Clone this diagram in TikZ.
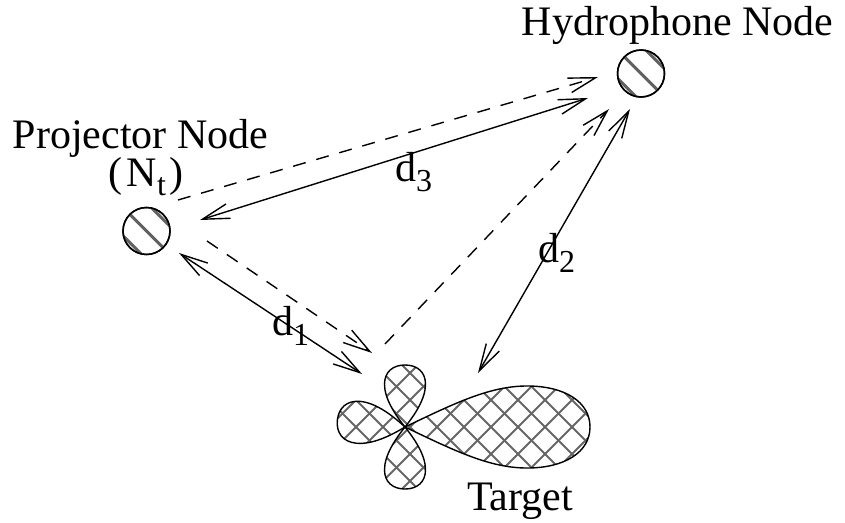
\documentclass[tikz,border=0pt]{standalone}
\usepackage{fontspec}
\setmainfont{Liberation Serif}
\usetikzlibrary{arrows.meta,calc}
\newcommand\bigf{\fontsize{42}{50}\selectfont}
\newcommand\subf{\fontsize{32}{38}\selectfont}
\newcommand\smlobe[2]{(0,0) .. controls ({0.19*#1},{0.46*#2}) and ({0.45*#1},{#2}) .. ({0.69*#1},{#2}) .. controls ({0.89*#1},{#2}) and ({#1},{0.59*#2}) .. ({#1},0) .. controls ({#1},{-0.59*#2}) and ({0.89*#1},{-#2}) .. ({0.69*#1},{-#2}) .. controls ({0.45*#1},{-#2}) and ({0.19*#1},{-0.46*#2}) .. (0,0) -- cycle}
\newcommand\biglobe{(0,0) .. controls (50,24) and (85,41) .. (122,41) .. controls (160,41) and (185,25) .. (185,0) .. controls (185,-25) and (160,-41) .. (122,-41) .. controls (85,-41) and (50,-24) .. (0,0) -- cycle}
\newcommand\hatchlobe[2]{%
  \begin{scope}
    \clip[#1] #2;
    \foreach \c in {-216,-189,...,270}
      \draw[hatch] ({350+\c},340) -- ({510+\c},500);
    \foreach \c in {648,675,...,1134}
      \draw[hatch] ({\c-340},340) -- ({\c-500},500);
  \end{scope}
  \draw[lobeline,#1] #2;
}
\begin{document}
\begin{tikzpicture}[x=1pt,y=-1pt,
  tip/.tip={Straight Barb[length=27pt,width=15pt]},
  solidconn/.style={line width=1.4pt, tip-tip},
  dashconn/.style={line width=1.4pt, dash pattern=on 13pt off 11pt, -tip},
  sensor/.style={circle, draw, line width=1.5pt, minimum size=47pt, inner sep=0pt},
  stripe/.style={line width=3pt, black!62},
  hatch/.style={line width=2pt, black!60},
  lobeline/.style={line width=1.4pt},
  lbl/.style={inner sep=0pt, font=\bigf}]
\useasboundingbox (0,0) rectangle (845,522);

% sensor nodes
\node[sensor] (P) at (146.5,231) {};
\node[sensor] (H) at (641,73.5) {};
\foreach \n in {P,H}{
  \begin{scope}
    \clip (\n) circle (23pt);
    \foreach \k in {-20,0,20}
      \draw[stripe] ($(\n)+({\k*0.7071-40},{-\k*0.7071-40})$) -- ($(\n)+({\k*0.7071+40},{-\k*0.7071+40})$);
  \end{scope}
}
\node[sensor] at (P) {};
\node[sensor] at (H) {};

% target
\coordinate (T) at (405,427);
\hatchlobe{shift={(T)}, x={(1pt,0pt)}, y={(0pt,1pt)}}{\biglobe}
\hatchlobe{shift={(T)}, x={(0pt,1pt)}, y={(1pt,0pt)}}{\smlobe{62}{20.5}}
\hatchlobe{shift={(T)}, x={(0pt,-1pt)}, y={(1pt,0pt)}}{\smlobe{62}{20.5}}
\hatchlobe{shift={(T)}, x={(-0.995pt,0.1pt)}, y={(0.1pt,0.995pt)}}{\smlobe{68}{21}}

% connector end points
\coordinate (a1) at (178,200);  \coordinate (a2) at (598,77);
\coordinate (b1) at (200,220);  \coordinate (b2) at (588,98);
\coordinate (c1) at (179,253);  \coordinate (c2) at (362,374);
\coordinate (e1) at (207,241);  \coordinate (e2) at (372,353);
\coordinate (f1) at (385,344);  \coordinate (f2) at (609,109);
\coordinate (g1) at (478,373);  \coordinate (g2) at (630,109);

\draw[dashconn] (a1) -- (a2);
\draw[solidconn] (b1) -- (b2);
\draw[solidconn] (c1) -- (c2);
\draw[dashconn] (e1) -- (e2);
\draw[dashconn] (f1) -- (f2);
\draw[solidconn] (g1) -- (g2);

% labels
\node[lbl, anchor=base] (hl) at (677.5,35) {Hydrophone Node};
\node[lbl, anchor=base] (pl) at (140.5,148) {Projector Node};
\node[lbl, anchor=base] (nl) at (146,186) {(\hspace{4pt}N\raisebox{-9pt}{\subf t}\hspace{3pt})};
\node[lbl, anchor=base west] (tl) at (467,510) {Target};
\node[lbl, anchor=base west] (d1) at (272,335) {d\raisebox{-10pt}{\subf 1}};
\node[lbl, anchor=base west] (d2) at (538,262) {d\raisebox{-10pt}{\subf 2}};
\node[lbl, anchor=base west] (d3) at (395,181) {d\raisebox{-10pt}{\subf 3}};
\end{tikzpicture}
\end{document}
